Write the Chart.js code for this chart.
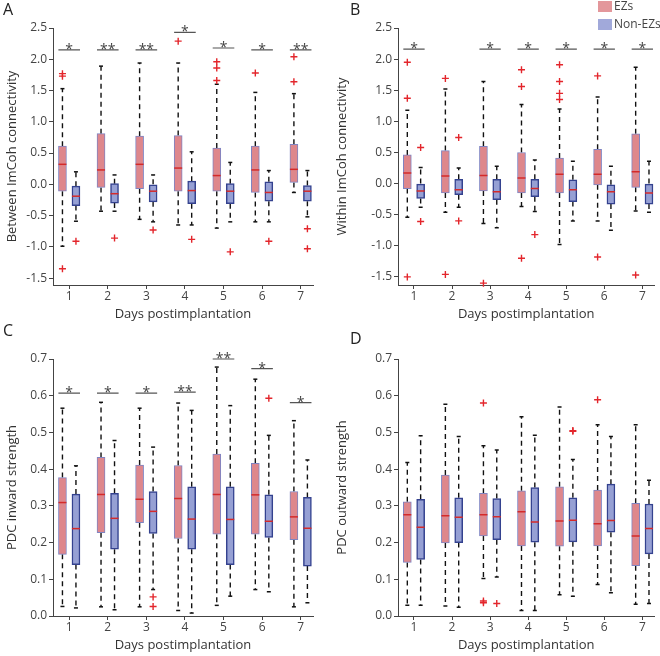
<!DOCTYPE html>
<html>
<head>
<meta charset="utf-8">
<script src="https://cdn.jsdelivr.net/npm/chart.js@4.4.0/dist/chart.umd.min.js"></script>
<style>
  body { margin: 0; background: #fff; font-family: 'Open Sans', sans-serif; }
  #wrap { position: relative; width: 660px; height: 656px; overflow: hidden; }
  .panel { position: absolute; }
  .letter { position: absolute; font-size: 16px; line-height: 16px; color: #222; }
  .leg { position: absolute; font-size: 12px; line-height: 14px; color: #444; white-space: nowrap; }
  .sw { position: absolute; width: 14px; height: 11px; }
</style>
</head>
<body>
<div id="wrap">
  <canvas id="chartA" class="panel" width="330" height="325" style="left:0;top:0"></canvas>
  <canvas id="chartB" class="panel" width="330" height="325" style="left:330px;top:0"></canvas>
  <canvas id="chartC" class="panel" width="330" height="334" style="left:0;top:322px"></canvas>
  <canvas id="chartD" class="panel" width="330" height="334" style="left:330px;top:322px"></canvas>
  <div class="letter" style="left:3px;top:1px">A</div>
  <div class="letter" style="left:350px;top:1px">B</div>
  <div class="letter" style="left:3px;top:322px">C</div>
  <div class="letter" style="left:350px;top:330px">D</div>
  <div class="sw" style="left:598px;top:1px;background:#e3979b"></div>
  <div class="sw" style="left:598px;top:19px;background:#a1a9da"></div>
  <div class="leg" style="left:614px;top:-1px">EZs</div>
  <div class="leg" style="left:614px;top:17px">Non-EZs</div>
</div>
<script>
// 数据
const days = [1, 2, 3, 4, 5, 6, 7];

// A: Between ImCoh connectivity
const aEzQ1 = [-0.11, -0.05, -0.07, -0.11, -0.11, -0.13, 0.03];
const aEzMed = [0.32, 0.23, 0.32, 0.26, 0.14, 0.23, 0.24];
const aEzQ3 = [0.61, 0.81, 0.77, 0.78, 0.58, 0.61, 0.64];
const aEzLo = [-0.99, -0.43, -0.56, -0.65, -0.70, -0.60, -0.13];
const aEzHi = [1.53, 1.89, 1.94, 1.94, 1.60, 1.47, 1.45];
const aEzOut = [[1.77, 1.73, -1.35], [], [], [2.29], [1.96, 1.86, 1.66], [1.78], [2.04, 1.64]];
const aNonQ1 = [-0.34, -0.30, -0.28, -0.31, -0.31, -0.27, -0.27];
const aNonMed = [-0.19, -0.15, -0.11, -0.10, -0.11, -0.13, -0.11];
const aNonQ3 = [-0.03, 0.01, 0.00, 0.05, 0.01, 0.04, -0.02];
const aNonLo = [-0.59, -0.43, -0.60, -0.65, -0.60, -0.60, -0.52];
const aNonHi = [0.20, 0.15, 0.15, 0.52, 0.35, 0.22, 0.22];
const aNonOut = [[-0.91], [-0.86], [-0.73], [-0.88], [-1.08], [-0.91], [-0.71, -1.03]];
const aSigLevel = [2.15, 2.15, 2.15, 2.43, 2.18, 2.15, 2.15];
const aSigMark = ['*', '**', '**', '*', '*', '*', '**'];

// B: Within ImCoh connectivity
const bEzQ1 = [-0.08, -0.15, -0.12, -0.15, -0.15, -0.02, -0.06];
const bEzMed = [0.17, 0.12, 0.13, 0.09, 0.15, 0.15, 0.19];
const bEzQ3 = [0.46, 0.53, 0.60, 0.50, 0.41, 0.55, 0.80];
const bEzLo = [-0.54, -0.46, -0.64, -0.37, -0.98, -0.60, -0.44];
const bEzHi = [1.18, 1.52, 1.64, 1.27, 1.20, 1.39, 1.87];
const bEzOut = [[1.95, 1.37, -1.50], [1.69, -1.46], [-1.60], [1.83, 1.56, -1.20], [1.91, 1.64, 1.45, 1.35], [1.73, -1.18], [-1.47]];
const bNonQ1 = [-0.24, -0.18, -0.26, -0.21, -0.29, -0.33, -0.33];
const bNonMed = [-0.12, -0.10, -0.13, -0.08, -0.10, -0.13, -0.15];
const bNonQ3 = [0.00, 0.07, 0.07, 0.07, 0.06, -0.02, 0.00];
const bNonLo = [-0.38, -0.38, -0.71, -0.45, -0.60, -0.75, -0.46];
const bNonHi = [0.26, 0.25, 0.28, 0.38, 0.36, 0.28, 0.36];
const bNonOut = [[0.58, -0.61], [0.74, -0.60], [], [-0.82], [], [], []];
const bSigLevel = [2.16, 2.16, 2.16, 2.16, 2.16, 2.16, 2.16];
const bSigMark = ['*', '', '*', '*', '*', '*', '*'];

// C: PDC inward strength
const cEzQ1 = [0.168, 0.227, 0.254, 0.211, 0.223, 0.223, 0.208];
const cEzMed = [0.309, 0.331, 0.318, 0.320, 0.331, 0.330, 0.270];
const cEzQ3 = [0.377, 0.432, 0.411, 0.410, 0.441, 0.416, 0.339];
const cEzLo = [0.026, 0.025, 0.025, 0.015, 0.029, 0.072, 0.025];
const cEzHi = [0.566, 0.582, 0.566, 0.580, 0.678, 0.645, 0.532];
const cEzOut = [[], [], [], [], [], [], []];
const cNonQ1 = [0.140, 0.182, 0.225, 0.182, 0.140, 0.214, 0.136];
const cNonMed = [0.238, 0.266, 0.285, 0.264, 0.263, 0.258, 0.239];
const cNonQ3 = [0.332, 0.334, 0.339, 0.352, 0.352, 0.330, 0.323];
const cNonLo = [0.022, 0.017, 0.072, 0.008, 0.054, 0.066, 0.036];
const cNonHi = [0.409, 0.478, 0.460, 0.560, 0.573, 0.492, 0.425];
const cNonOut = [[], [], [0.052, 0.026], [], [], [0.593], []];
const cSigLevel = [0.607, 0.607, 0.607, 0.610, 0.700, 0.674, 0.581];
const cSigMark = ['*', '*', '*', '**', '**', '*', '*'];

// D: PDC outward strength
const dEzQ1 = [0.146, 0.199, 0.218, 0.191, 0.190, 0.191, 0.137];
const dEzMed = [0.276, 0.273, 0.276, 0.284, 0.259, 0.251, 0.218];
const dEzQ3 = [0.311, 0.384, 0.334, 0.341, 0.352, 0.343, 0.307];
const dEzLo = [0.029, 0.027, 0.102, 0.015, 0.058, 0.086, 0.032];
const dEzHi = [0.418, 0.577, 0.464, 0.543, 0.569, 0.521, 0.521];
const dEzOut = [[], [], [0.580, 0.041, 0.036], [], [], [0.589], []];
const dNonQ1 = [0.154, 0.200, 0.208, 0.201, 0.202, 0.228, 0.169];
const dNonMed = [0.242, 0.269, 0.270, 0.256, 0.261, 0.260, 0.238];
const dNonQ3 = [0.318, 0.322, 0.320, 0.350, 0.322, 0.359, 0.305];
const dNonLo = [0.029, 0.024, 0.106, 0.015, 0.054, 0.063, 0.034];
const dNonHi = [0.491, 0.489, 0.452, 0.492, 0.426, 0.489, 0.370];
const dNonOut = [[], [], [0.034], [], [0.505, 0.503], [], []];
const dSigLevel = [null, null, null, null, null, null, null];
const dSigMark = ['', '', '', '', '', '', ''];

// 坐标轴刻度
const yTicksAB = [-1.5, -1.0, -0.5, 0.0, 0.5, 1.0, 1.5, 2.0, 2.5];
const yTicksCD = [0.0, 0.1, 0.2, 0.3, 0.4, 0.5, 0.6, 0.7];

Chart.defaults.font.family = "'Open Sans', sans-serif";
Chart.defaults.color = '#444';

const EZ_FILL = '#de878c';
const EZ_EDGE = '#7f84c2';
const NON_FILL = '#96a0d4';
const NON_EDGE = '#34428f';
const MED_COLOR = '#d42a2a';
const OUT_COLOR = '#e3262c';
const OFF = 0.175;

// 星号标注
const sigStars = {
    id: 'sigStars',
    afterDatasetsDraw(chart, args, opts) {
        const ctx = chart.ctx;
        const xs = chart.scales.x, ys = chart.scales.y;
        ctx.save();
        ctx.fillStyle = '#444';
        ctx.font = "14px 'Open Sans', sans-serif";
        ctx.textAlign = 'center';
        ctx.textBaseline = 'alphabetic';
        days.forEach((d, i) => {
            if (!opts.marks[i]) return;
            ctx.fillText(opts.marks[i], xs.getPixelForValue(d), ys.getPixelForValue(opts.levels[i]) + 4);
        });
        ctx.restore();
    }
};

function groupDatasets(g, dx, fill, edge, edgeW) {
    const whisk = [], caps = [], meds = [], outs = [], boxes = [];
    days.forEach((d, i) => {
        const x = d + dx;
        whisk.push({x, y: g.q3[i]}, {x, y: g.hi[i]}, {x, y: null},
                   {x, y: g.q1[i]}, {x, y: g.lo[i]}, {x, y: null});
        caps.push({x, y: g.hi[i]}, {x, y: g.lo[i]});
        meds.push({x, y: g.med[i]});
        boxes.push({x, y: [g.q1[i], g.q3[i]]});
        g.out[i].forEach(v => outs.push({x, y: v}));
    });
    return [
        {
            type: 'line', data: whisk, order: 3, borderColor: '#111', borderWidth: 1.4,
            borderDash: [5, 4], pointRadius: 0, spanGaps: false, fill: false
        },
        {
            type: 'line', data: caps, order: 3, showLine: false, pointStyle: 'line',
            pointRadius: 2, pointBorderWidth: 1.5, pointBorderColor: '#111'
        },
        {
            type: 'bar', data: boxes, order: 2, backgroundColor: fill, borderColor: edge,
            borderWidth: edgeW, borderSkipped: false, barThickness: 8, grouped: false
        },
        {
            type: 'line', data: meds, order: 1, showLine: false, pointStyle: 'line',
            pointRadius: 4, pointBorderWidth: 1.5, pointBorderColor: MED_COLOR
        },
        {
            type: 'line', data: outs, order: 0, showLine: false, pointStyle: 'cross', clip: false,
            pointRadius: 3.5, pointBorderWidth: 1.4, pointBorderColor: OUT_COLOR
        }
    ];
}

function buildPanel(id, o) {
    const sigLine = [];
    days.forEach((d, i) => {
        if (!o.marks[i]) return;
        sigLine.push({x: d - 0.28, y: o.levels[i]}, {x: d + 0.28, y: o.levels[i]}, {x: d, y: null});
    });
    const datasets = [
        ...groupDatasets(o.ez, -OFF, EZ_FILL, EZ_EDGE, 1),
        ...groupDatasets(o.non, OFF, NON_FILL, NON_EDGE, 1.5),
        {
            type: 'line', data: sigLine, order: 0, borderColor: '#555', borderWidth: 1.2,
            pointRadius: 0, spanGaps: false, clip: false
        }
    ];
    new Chart(document.getElementById(id), {
        type: 'bar',
        data: { datasets },
        plugins: [sigStars],
        options: {
            responsive: false,
            animation: false,
            events: [],
            layout: { padding: { top: o.padTop, right: o.padRight, left: 0, bottom: 0 } },
            plugins: {
                legend: { display: false },
                tooltip: { enabled: false },
                sigStars: { marks: o.marks, levels: o.levels }
            },
            scales: {
                x: {
                    type: 'linear', min: 0.58, max: 7.32, offset: false,
                    afterBuildTicks: s => { s.ticks = days.map(v => ({value: v})); },
                    afterFit: s => { s.height = 40; },
                    ticks: { font: { size: 12 }, color: '#444', padding: 0 },
                    grid: { drawOnChartArea: false, drawTicks: true, tickLength: 4, color: '#444', offset: false },
                    border: { display: true, color: '#444', width: 1 },
                    title: { display: true, text: 'Days postimplantation', font: { size: 13 }, color: '#333', padding: { top: 0, bottom: 3 } }
                },
                y: {
                    type: 'linear', min: o.yMin, max: o.yMax,
                    afterBuildTicks: s => { s.ticks = o.yTicks.map(v => ({value: v})); },
                    afterFit: s => { s.width = o.yWidth; },
                    ticks: { font: { size: 12 }, color: '#444', padding: 2, callback: v => v.toFixed(1) },
                    grid: { drawOnChartArea: false, drawTicks: true, tickLength: 4, color: '#444' },
                    border: { display: true, color: '#444', width: 1 },
                    title: { display: true, text: o.yTitle, font: { size: 13 }, color: '#333', padding: { top: 4, bottom: 0 } }
                }
            }
        }
    });
}

buildPanel('chartA', {
    ez: { q1: aEzQ1, med: aEzMed, q3: aEzQ3, lo: aEzLo, hi: aEzHi, out: aEzOut },
    non: { q1: aNonQ1, med: aNonMed, q3: aNonQ3, lo: aNonLo, hi: aNonHi, out: aNonOut },
    levels: aSigLevel, marks: aSigMark,
    yMin: -1.61, yMax: 2.5, yTicks: yTicksAB, yTitle: 'Between ImCoh connectivity',
    yWidth: 53, padTop: 28, padRight: 17
});
buildPanel('chartB', {
    ez: { q1: bEzQ1, med: bEzMed, q3: bEzQ3, lo: bEzLo, hi: bEzHi, out: bEzOut },
    non: { q1: bNonQ1, med: bNonMed, q3: bNonQ3, lo: bNonLo, hi: bNonHi, out: bNonOut },
    levels: bSigLevel, marks: bSigMark,
    yMin: -1.63, yMax: 2.5, yTicks: yTicksAB, yTitle: 'Within ImCoh connectivity',
    yWidth: 68, padTop: 28, padRight: 1
});
buildPanel('chartC', {
    ez: { q1: cEzQ1, med: cEzMed, q3: cEzQ3, lo: cEzLo, hi: cEzHi, out: cEzOut },
    non: { q1: cNonQ1, med: cNonMed, q3: cNonQ3, lo: cNonLo, hi: cNonHi, out: cNonOut },
    levels: cSigLevel, marks: cSigMark,
    yMin: 0, yMax: 0.7, yTicks: yTicksCD, yTitle: 'PDC inward strength',
    yWidth: 53, padTop: 37, padRight: 17
});
buildPanel('chartD', {
    ez: { q1: dEzQ1, med: dEzMed, q3: dEzQ3, lo: dEzLo, hi: dEzHi, out: dEzOut },
    non: { q1: dNonQ1, med: dNonMed, q3: dNonQ3, lo: dNonLo, hi: dNonHi, out: dNonOut },
    levels: dSigLevel, marks: dSigMark,
    yMin: 0, yMax: 0.7, yTicks: yTicksCD, yTitle: 'PDC outward strength',
    yWidth: 68, padTop: 37, padRight: 1
});
</script>
</body>
</html>
